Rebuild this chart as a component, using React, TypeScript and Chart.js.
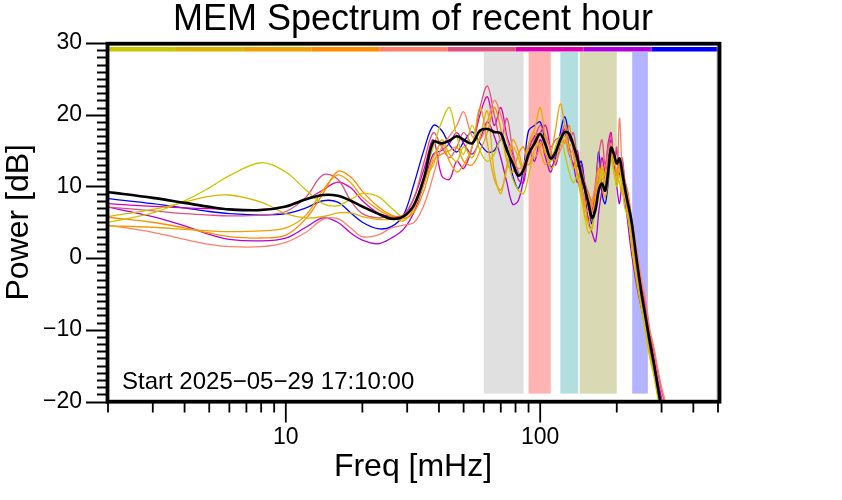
import { useEffect, useRef } from 'react';
import { Chart, registerables } from 'chart.js';

Chart.register(...registerables);

const FONT = '"Liberation Sans", Arial, Helvetica, sans-serif';

// Frequency grid (mHz)
const freqMHz = [2, 3, 4, 5, 6, 8, 10, 12, 14, 16, 18, 20, 23, 26, 29, 32, 35, 38, 41, 44, 47, 50, 54, 58, 62, 66, 70, 74, 78, 82, 86, 90, 95, 100, 105, 110, 115, 120, 125, 130, 135, 140, 145, 150, 155, 160, 165, 170, 175, 180, 185, 190, 195, 200, 205, 210, 215, 220, 225, 230, 240, 250, 260, 270, 280, 290, 300, 310, 320];

// Power (dB) per 10-min segment
const seg1Db = [5.0, 6.3, 8.0, 9.8, 11.5, 13.3, 12.0, 9.5, 7.6, 7.3, 8.2, 9.0, 8.6, 7.0,
  5.8, 7.5, 11.5, 15.5, 19.0, 21.0, 17.0, 14.5, 18.5, 15.0, 13.5, 14.5, 16.5, 14.0, 11.0, 9.5, 9.0, 11.5, 15.0, 17.5, 15.0, 13.5, 15.5, 17.0, 14.5, 12.0, 10.5, 11.5, 8.5, 5.5, 3.5, 4.5, 7.0, 9.5, 12.0, 10.0, 11.5, 13.5, 12.0, 10.0, 11.5, 9.5, 7.0, 6.0, 4.0, 1.0, -3.5, -7.0, -10.5, -14.0, -16.5, -19.5, -22.0, -24.0, -26.0];
const seg2Db = [5.8, 6.8, 7.8, 8.6, 8.8, 7.8, 6.2, 5.6, 5.8, 6.3, 6.3, 5.8, 5.4, 5.4,
  5.6, 7.5, 11.0, 13.0, 16.5, 14.5, 13.5, 15.5, 14.0, 17.0, 20.5, 12.0, 9.0, 13.0, 15.5, 14.0, 12.0, 16.0, 18.0, 21.0, 16.5, 12.5, 13.5, 16.0, 17.0, 15.0, 12.5, 13.5, 10.0, 7.5, 4.5, 4.0, 8.0, 10.0, 13.0, 11.5, 12.5, 14.0, 12.0, 10.5, 12.5, 10.0, 8.5, 6.5, 4.5, 1.5, -3.0, -6.5, -10.0, -13.5, -16.0, -19.0, -22.0, -24.0, -26.0];
const seg3Db = [4.5, 4.3, 4.0, 3.8, 3.7, 3.8, 4.2, 6.0, 9.5, 11.6, 10.5, 8.5, 6.8, 5.8,
  5.2, 7.0, 10.5, 14.0, 16.0, 13.5, 12.0, 13.0, 15.5, 21.0, 16.0, 11.0, 9.5, 12.5, 16.5, 15.0, 12.5, 15.5, 17.5, 15.0, 13.0, 14.5, 18.0, 21.5, 18.5, 15.5, 16.5, 12.0, 9.5, 6.0, 5.0, 7.5, 9.0, 12.5, 10.0, 8.5, 11.0, 14.5, 13.5, 12.0, 10.5, 9.0, 11.0, 7.0, 5.5, 2.0, -2.5, -6.0, -9.0, -12.5, -15.5, -19.0, -21.5, -24.0, -26.0];
const seg4Db = [5.7, 5.0, 4.2, 3.5, 3.0, 2.8, 3.2, 5.5, 9.0, 12.1, 11.3, 9.3, 7.2, 6.0,
  5.5, 6.5, 9.5, 13.5, 14.5, 15.0, 15.5, 13.5, 13.0, 15.0, 17.5, 21.0, 18.0, 13.5, 12.0, 14.5, 15.5, 13.0, 15.0, 16.0, 14.5, 13.5, 15.5, 17.0, 16.0, 18.5, 14.5, 11.5, 8.5, 7.5, 9.0, 6.5, 8.5, 11.0, 12.5, 10.5, 13.5, 15.0, 14.0, 11.5, 13.0, 10.0, 8.5, 9.5, 6.0, 3.0, -1.5, -5.5, -8.5, -12.0, -15.0, -18.5, -21.0, -23.5, -26.0];
const seg5Db = [4.6, 3.6, 2.6, 1.9, 1.6, 1.6, 2.2, 3.6, 5.4, 5.5, 4.2, 3.0, 3.2, 4.2,
  4.6, 5.0, 7.5, 11.5, 15.5, 17.0, 18.5, 20.4, 17.0, 16.5, 19.0, 22.0, 20.0, 16.5, 14.0, 12.5, 13.0, 15.0, 14.0, 15.5, 17.0, 15.0, 13.5, 15.0, 16.5, 14.5, 15.0, 11.5, 9.0, 7.0, 6.5, 8.0, 10.0, 12.5, 11.0, 12.0, 14.5, 16.0, 12.0, 11.0, 19.5, 12.5, 10.0, 9.0, 7.0, 4.5, 1.0, -3.0, -6.0, -10.0, -12.5, -15.5, -18.0, -20.0, -22.5];
const seg6Db = [7.1, 6.6, 6.2, 6.0, 5.9, 6.0, 6.5, 8.5, 11.6, 11.0, 8.0, 6.2, 5.6, 5.8,
  6.0, 8.5, 13.5, 17.5, 15.5, 14.0, 15.5, 17.5, 16.0, 21.0, 24.0, 20.0, 16.5, 19.5, 15.0, 12.0, 11.5, 14.0, 16.5, 18.5, 17.0, 15.5, 16.5, 17.0, 18.5, 16.5, 17.5, 14.0, 12.5, 10.5, 9.0, 8.0, 10.5, 14.5, 16.5, 13.0, 15.5, 17.0, 13.5, 15.5, 12.0, 14.0, 11.0, 9.5, 7.5, 5.0, 0.0, -3.5, -6.5, -10.5, -13.0, -16.0, -18.5, -20.5, -23.0];
const seg7Db = [7.6, 7.2, 7.0, 6.9, 6.8, 6.8, 7.2, 8.2, 9.5, 10.6, 9.8, 8.0, 6.3, 5.8,
  6.0, 8.5, 12.5, 16.5, 11.5, 11.0, 13.5, 12.5, 15.5, 20.0, 22.5, 18.5, 21.0, 17.0, 14.5, 11.0, 10.5, 15.0, 17.0, 17.5, 18.5, 15.0, 13.0, 16.0, 18.0, 15.5, 13.0, 15.0, 10.5, 7.5, 5.5, 6.5, 9.5, 11.0, 14.0, 12.0, 16.0, 17.5, 13.0, 15.0, 11.5, 13.5, 10.5, 8.0, 6.0, 3.5, -0.5, -4.0, -7.0, -10.5, -14.0, -17.0, -19.5, -21.5, -24.0];
const seg8Db = [7.1, 5.8, 4.5, 3.3, 2.6, 2.4, 2.8, 4.3, 5.6, 5.0, 3.5, 2.5, 2.0, 2.8,
  4.0, 6.5, 10.5, 14.5, 15.0, 16.0, 17.5, 16.0, 14.5, 16.5, 19.0, 17.0, 14.0, 10.5, 7.5, 8.0, 11.0, 15.5, 13.5, 16.5, 14.0, 12.0, 14.5, 16.0, 17.5, 14.5, 13.0, 10.5, 13.0, 9.0, 5.0, 3.5, 2.3, 6.5, 9.5, 12.0, 14.0, 16.5, 12.5, 10.0, 7.6, 10.5, 8.0, 5.5, 2.5, 0.0, -4.0, -7.0, -10.0, -13.0, -15.5, -18.5, -21.0, -23.0, -25.0];
const seg9Db = [8.3, 7.6, 7.0, 6.5, 6.2, 6.0, 6.2, 7.0, 8.0, 7.8, 6.3, 5.0, 4.1, 4.4,
  6.0, 10.5, 15.2, 18.5, 17.8, 15.8, 14.8, 16.2, 17.6, 16.0, 14.8, 15.0, 16.5, 15.5, 11.5, 9.7, 12.5, 17.8, 18.5, 19.0, 16.0, 12.7, 14.0, 17.5, 19.7, 17.0, 15.5, 12.8, 13.5, 10.0, 7.0, 4.8, 9.5, 14.8, 9.0, 7.6, 10.5, 15.0, 13.0, 12.0, 14.0, 11.0, 10.5, 7.5, 5.5, 3.0, -1.5, -5.0, -8.0, -12.0, -15.0, -18.0, -20.5, -23.0, -25.5];
const meanDb = [9.2, 8.4, 7.7, 7.15, 6.8, 6.7, 7.2, 8.2, 8.8, 8.7, 8.0, 7.2, 6.2, 5.5,
  5.8, 7.5, 11.3, 16.2, 16.0, 16.4, 17.0, 16.5, 16.0, 17.8, 18.0, 17.6, 17.4, 15.0, 13.2, 11.5, 12.3, 14.5, 16.0, 17.3, 15.8, 13.9, 14.8, 16.5, 17.6, 17.3, 15.8, 13.9, 11.6, 9.6, 7.6, 5.6, 6.8, 9.5, 10.4, 9.4, 12.0, 15.4, 14.5, 13.2, 13.9, 12.0, 9.9, 8.0, 6.4, 4.5, -0.5, -4.9, -8.4, -11.8, -14.8, -18.0, -21.0, -23.5, -26.0];

const segmentSeries = [seg1Db, seg2Db, seg3Db, seg4Db, seg5Db, seg6Db, seg7Db, seg8Db, seg9Db];
const segmentColors = ['#C8C800', '#DCB400', '#F0A000', '#FF8C00', '#FF7F6A', '#DE5080', '#DE00B0', '#B000DE', '#0000FF'];

// Shaded frequency bands (mHz)
const bandStart = [60, 90, 120, 143, 230];
const bandEnd = [86, 110, 141, 200, 265];
const bandColors = ['#E0E0E0', '#FFB3B3', '#B3DEE0', '#D9D9B3', '#B3B3FF'];
const bandTopDb = 28.75;
const bandBottomDb = -18.9;
const colorBarDb = 29.12;

// Axis ticks
const xLabelTicks = [10, 100];
const xMinorTicks = [2, 3, 4, 5, 6, 7, 8, 9, 20, 30, 40, 50, 60, 70, 80, 90, 200, 300, 400, 500];
const yLabelTicks = [-20, -10, 0, 10, 20, 30];
const yMin = -20;
const yMax = 30;

const titleText = 'MEM Spectrum of recent hour';
const startText = 'Start 2025\u221205\u221229 17:10:00';

const decorPlugin = {
  id: 'decor',
  beforeDatasetsDraw(chart: any) {
    const { ctx, scales } = chart;
    const x = scales.x;
    const y = scales.y;
    ctx.save();
    const yt = y.getPixelForValue(bandTopDb);
    const yb = y.getPixelForValue(bandBottomDb);
    for (let i = 0; i < bandStart.length; i++) {
      const x0 = x.getPixelForValue(bandStart[i]);
      const x1 = x.getPixelForValue(bandEnd[i]);
      ctx.fillStyle = bandColors[i];
      ctx.fillRect(x0, yt, x1 - x0, yb - yt);
    }
    ctx.restore();
  },
  afterDatasetsDraw(chart: any) {
    const { ctx, chartArea, scales } = chart;
    const x = scales.x;
    const y = scales.y;
    const { left, right, top, bottom } = chartArea;
    ctx.save();
    // color bar of segments
    const n = segmentColors.length;
    const barL = left;
    const barR = right + 1.5;
    const w = (barR - barL) / n;
    const yc = y.getPixelForValue(colorBarDb);
    ctx.lineCap = 'butt';
    ctx.lineWidth = 4.5;
    for (let i = 0; i < n; i++) {
      ctx.strokeStyle = segmentColors[i];
      ctx.beginPath();
      ctx.moveTo(barL + i * w, yc);
      ctx.lineTo(barL + (i + 1) * w, yc);
      ctx.stroke();
    }
    // inner grey line on right
    ctx.strokeStyle = '#999';
    ctx.lineWidth = 1;
    ctx.beginPath();
    ctx.moveTo(right - 0.8, top);
    ctx.lineTo(right - 0.8, bottom);
    ctx.stroke();
    // frame
    ctx.strokeStyle = '#000';
    ctx.lineWidth = 3.8;
    ctx.strokeRect(left - 0.5, top + 0.7, right + 2 - left, bottom - top - 0.5);
    // y ticks
    ctx.lineWidth = 1.8;
    ctx.beginPath();
    for (let v = yMin; v <= yMax; v++) {
      const py = Math.round(y.getPixelForValue(v)) + 0.5;
      const major = yLabelTicks.includes(v);
      ctx.moveTo(left - (major ? 22 : 11), py);
      ctx.lineTo(left, py);
    }
    ctx.stroke();
    // x ticks
    ctx.beginPath();
    for (const v of xLabelTicks) {
      const px = x.getPixelForValue(v);
      ctx.moveTo(px, bottom);
      ctx.lineTo(px, bottom + 21);
    }
    for (const v of xMinorTicks) {
      const px = x.getPixelForValue(v);
      ctx.moveTo(px, bottom);
      ctx.lineTo(px, bottom + 11);
    }
    ctx.stroke();
    // texts
    ctx.fillStyle = '#000';
    ctx.textBaseline = 'alphabetic';
    ctx.textAlign = 'left';
    ctx.font = `24px ${FONT}`;
    ctx.fillText(startText, left + 14, 389);
    ctx.textAlign = 'center';
    ctx.font = `36px ${FONT}`;
    ctx.fillText(titleText, (left + right) / 2, 30);
    ctx.restore();
  },
};

export default function App() {
  const ref = useRef<HTMLCanvasElement>(null);
  useEffect(() => {
    document.body.style.margin = '0';
    const canvas = ref.current;
    if (!canvas) return;
    const datasets: any[] = [
      {
        label: 'mean',
        data: freqMHz.map((f, i) => ({ x: f, y: meanDb[i] })),
        borderColor: '#000000',
        borderWidth: 2.6,
        order: 0,
      },
      ...segmentSeries.map((arr, k) => ({
        label: 'seg' + (k + 1),
        data: freqMHz.map((f, i) => ({ x: f, y: arr[i] })),
        borderColor: segmentColors[k],
        borderWidth: 1.3,
        order: 1,
      })),
    ];
    const chart = new Chart(canvas, {
      type: 'line',
      data: { datasets },
      options: {
        animation: false,
        responsive: false,
        maintainAspectRatio: false,
        layout: { padding: { top: 43, right: 124, bottom: 0, left: 0 } },
        elements: {
          point: { radius: 0, hoverRadius: 0 },
          line: { tension: 0.35, fill: false },
        },
        plugins: {
          legend: { display: false },
          tooltip: { enabled: false },
          title: { display: false },
        },
        scales: {
          x: {
            type: 'logarithmic',
            min: 2,
            max: 500,
            grid: { display: false, drawTicks: false },
            border: { display: false },
            afterBuildTicks: (scale: any) => {
              scale.ticks = xLabelTicks.map((v) => ({ value: v }));
            },
            afterFit: (scale: any) => {
              scale.height = 98.5;
            },
            ticks: {
              autoSkip: false,
              maxRotation: 0,
              color: '#000',
              padding: 22,
              font: { family: FONT, size: 23 },
              callback: (v: any) => String(v),
            },
            title: {
              display: true,
              text: 'Freq [mHz]',
              color: '#000',
              font: { family: FONT, size: 32 },
              padding: { top: 0, bottom: 14 },
            },
          },
          y: {
            type: 'linear',
            min: yMin,
            max: yMax,
            grid: { display: false, drawTicks: false },
            border: { display: false },
            afterBuildTicks: (scale: any) => {
              scale.ticks = yLabelTicks.map((v) => ({ value: v }));
            },
            afterFit: (scale: any) => {
              scale.width = 108;
            },
            ticks: {
              autoSkip: false,
              color: '#000',
              padding: 26,
              font: { family: FONT, size: 23 },
              callback: (v: any) => (Number(v) < 0 ? '\u2212' + Math.abs(Number(v)) : String(v)),
            },
            title: {
              display: true,
              text: 'Power [dB]',
              color: '#000',
              font: { family: FONT, size: 32 },
              padding: { top: 0, bottom: 0 },
            },
          },
        },
      },
      plugins: [decorPlugin],
    });
    return () => chart.destroy();
  }, []);
  return (
    <div style={{ width: 842, height: 500 }}>
      <canvas ref={ref} width={842} height={500} style={{ display: 'block', width: '842px', height: '500px' }} />
    </div>
  );
}
